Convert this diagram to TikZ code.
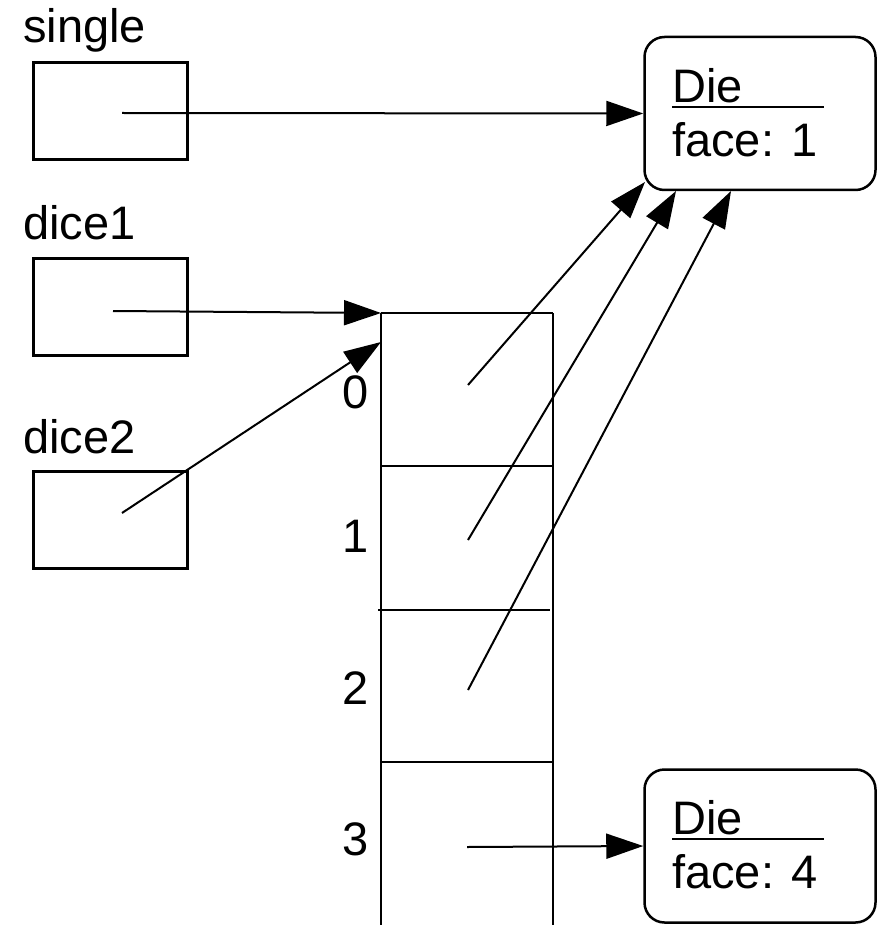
\documentclass[tikz,border=0pt]{standalone}
\usepackage{fontspec}
\setmainfont{Liberation Sans}
\usetikzlibrary{arrows.meta}
\begin{document}
\begin{tikzpicture}[x=1pt,y=-1pt,
  varbox/.style={draw,line width=3pt,minimum width=154pt,minimum height=97pt,inner sep=0pt},
  diebox/.style={draw,line width=2.5pt,rounded corners=20pt,minimum width=231pt,minimum height=153pt,inner sep=0pt},
  cell/.style={line width=2pt},
  ptr/.style={line width=2pt,-{Triangle[length=37pt,width=25pt]}},
  lbl/.style={font=\fontsize{47}{56}\selectfont,inner sep=0pt,anchor=base west},
  idx/.style={font=\fontsize{47}{56}\selectfont,inner sep=0pt,anchor=base}]
\useasboundingbox (0,0) rectangle (885,925);
% variable boxes
\node[lbl] (lsingle) at (23,43) {single};
\node[varbox] (single) at (110.5,111.5) {};
\node[lbl] (ldice1) at (23,240) {dice1};
\node[varbox] (dice1) at (110.5,307) {};
\node[lbl] (ldice2) at (23,453) {dice2};
\node[varbox] (dice2) at (110.5,519.5) {};
% Die objects
\node[diebox] (die1) at (760,113.5) {};
\node[lbl] (die1t) at (672,103) {Die};
\draw[line width=2pt] (672,107) -- (824,107);
\node[lbl] (die1f) at (672,157) {face: 1};
\node[diebox] (die2) at (760,846) {};
\node[lbl] (die2t) at (672,834) {Die};
\draw[line width=2pt] (672,839) -- (824,839);
\node[lbl] (die2f) at (672,888) {face: 4};
% array
\draw[cell] (381,313) -- (381,925);
\draw[cell] (553,313) -- (553,925);
\draw[cell] (381,313) -- (553,313);
\draw[cell] (381,466) -- (553,466);
\draw[cell] (378,610) -- (550,610);
\draw[cell] (381,762) -- (553,762);
\coordinate (arrtop) at (381,313);
\coordinate (arrside) at (381,342);
\node[idx] (i0) at (356,408) {0};
\node[idx] (i1) at (356,552) {1};
\node[idx] (i2) at (356,704) {2};
\node[idx] (i3) at (356,855) {3};
% pointer starts
\coordinate (ps) at (122,113);
\coordinate (p1) at (113,311);
\coordinate (p2) at (122,513);
\coordinate (c0) at (468,385);
\coordinate (c1) at (468,540);
\coordinate (c2) at (468,690);
\coordinate (c3) at (467,847);
% pointer ends on Die 1
\coordinate (t0) at (645,182);
\coordinate (t1) at (676,191);
\coordinate (t2) at (731,191);
% arrows
\draw[ptr] (ps) -- (die1.west);
\draw[ptr] (p1) -- (arrtop);
\draw[ptr] (p2) -- (arrside);
\draw[ptr] (c0) -- (t0);
\draw[ptr] (c1) -- (t1);
\draw[ptr] (c2) -- (t2);
\draw[ptr] (c3) -- (die2.west);
\end{tikzpicture}
\end{document}
